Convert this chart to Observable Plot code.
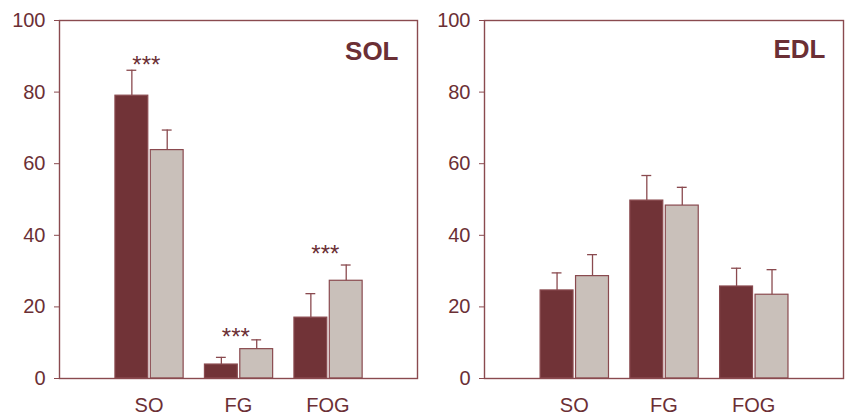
<!DOCTYPE html>
<html>
<head>
<meta charset="utf-8">
<script src="https://cdn.jsdelivr.net/npm/d3@7"></script>
<script src="https://cdn.jsdelivr.net/npm/@observablehq/plot@0.6"></script>
<style>
  body { margin: 0; background: #fff; }
  #wrap { display: flex; width: 846px; height: 416px; }
</style>
</head>
<body>
<div id="wrap"></div>
<script>
const categories = ["SO", "FG", "FOG"];
const yTicks = [0, 20, 40, 60, 80, 100];

// SOL panel
const solDark = [79.0, 3.9, 17.0];
const solDarkErr = [86.1, 5.9, 23.7];
const solLight = [63.8, 8.2, 27.3];
const solLightErr = [69.4, 10.8, 31.7];
const solStars = ["***", "***", "***"];
const solStarY = [90.2, 14.0, 37.4];

// EDL panel
const edlDark = [24.6, 49.7, 25.7];
const edlDarkErr = [29.5, 56.7, 30.8];
const edlLight = [28.6, 48.3, 23.4];
const edlLightErr = [34.6, 53.4, 30.4];

const DARK = "#713337";
const LIGHT = "#c9c0ba";
const EDGE = "#8a4a4f";
const TEXT = "#6b2f35";

function panel(title, dark, darkErr, light, lightErr, stars, starY, ml, mr, tdx, tdy) {
  const rows = [];
  categories.forEach((c, i) => {
    rows.push({pos: i + 1, side: "dark", v: dark[i], e: darkErr[i]});
    rows.push({pos: i + 1, side: "light", v: light[i], e: lightErr[i]});
  });
  const off = d => d.side === "dark" ? [-0.375, -0.008] : [0.02, 0.387];
  const cx = d => d.pos + (off(d)[0] + off(d)[1]) / 2;
  const cap = 0.055;
  const starRows = stars ? categories.map((c, i) => ({pos: i + 1, s: stars[i], y: starY[i]})) : [];
  return Plot.plot({
    width: 423,
    height: 416,
    marginLeft: ml,
    marginRight: mr,
    marginTop: 20,
    marginBottom: 38,
    style: {fontFamily: "'Liberation Sans', Arial, sans-serif", color: TEXT, background: "#fff"},
    x: {type: "linear", domain: [0, 4], axis: null},
    y: {type: "linear", domain: [0, 100], axis: null},
    marks: [
      Plot.rect(rows, {
        x1: d => d.pos + off(d)[0], x2: d => d.pos + off(d)[1],
        y1: 0, y2: "v",
        fill: d => d.side === "dark" ? DARK : LIGHT,
        stroke: EDGE, strokeWidth: 1.2
      }),
      Plot.ruleX(rows, {x: cx, y1: "v", y2: "e", stroke: EDGE, strokeWidth: 1.3}),
      Plot.ruleY(rows, {y: "e", x1: d => cx(d) - cap, x2: d => cx(d) + cap, stroke: EDGE, strokeWidth: 1.3}),
      Plot.text(starRows, {x: d => d.pos - 0.03, y: "y", text: "s", fontSize: 24, fill: TEXT, lineAnchor: "top"}),
      Plot.text([title], {frameAnchor: "top-right", text: d => d, dx: tdx, dy: tdy,
        fontSize: 26, fontWeight: "bold", fill: TEXT, textAnchor: "end", lineAnchor: "top"}),
      Plot.frame({stroke: EDGE, strokeWidth: 1.4}),
      Plot.axisY(yTicks, {tickSize: 5, tickPadding: 9, fontSize: 20, stroke: EDGE, fill: TEXT, tickFormat: d => d}),
      Plot.axisX([1, 2, 3], {tickSize: 0, tickPadding: 19, fontSize: 20, fill: TEXT, tickFormat: d => categories[d - 1]})
    ]
  });
}

const wrap = document.getElementById("wrap");
wrap.appendChild(panel("SOL", solDark, solDarkErr, solLight, solLightErr, solStars, solStarY, 59, 6, -19, 21));
wrap.appendChild(panel("EDL", edlDark, edlDarkErr, edlLight, edlLightErr, null, null, 61, 3, -18, 19));
</script>
</body>
</html>
